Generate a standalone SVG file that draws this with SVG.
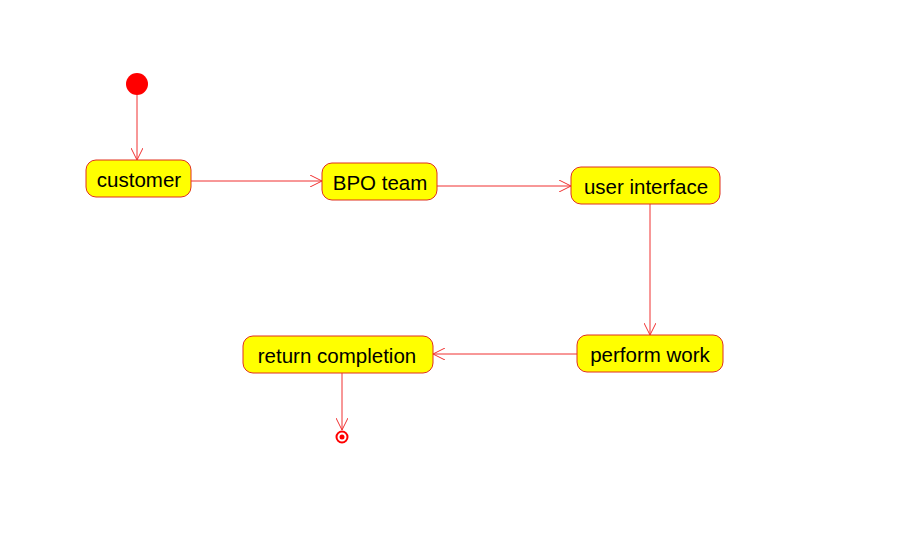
<svg xmlns="http://www.w3.org/2000/svg" width="914" height="559" viewBox="0 0 914 559">
<style>
.n rect{fill:#ffff00;stroke:#e0301e;stroke-width:1}
.n text{font-family:"Liberation Sans",Arial,sans-serif;font-size:20.5px;fill:#000;text-anchor:middle;dominant-baseline:central}
.c line{stroke:#f03030;stroke-width:1;marker-end:url(#a)}
</style>
<defs>
<marker id="a" viewBox="0 0 12 12" refX="12" refY="6" markerWidth="12" markerHeight="12" markerUnits="userSpaceOnUse" orient="auto">
<path d="M0,0 L12,6 L0,12" fill="none" stroke="#f03030" stroke-width="1"/>
</marker>
</defs>
<rect width="914" height="559" fill="#fff"/>
<g id="start"><circle cx="137" cy="84" r="11" fill="#ff0000"/></g>
<g id="customer" class="n"><rect x="86" y="160" width="105" height="37" rx="10"/><text x="139" y="179">customer</text></g>
<g id="bpo" class="n"><rect x="322" y="163" width="115" height="37" rx="10"/><text x="380" y="182">BPO team</text></g>
<g id="ui" class="n"><rect x="571" y="167" width="149" height="37" rx="10"/><text x="646" y="186">user interface</text></g>
<g id="perform" class="n"><rect x="577" y="335" width="146" height="37" rx="10"/><text x="650" y="354">perform work</text></g>
<g id="return" class="n"><rect x="243" y="336" width="190" height="37" rx="10"/><text x="337" y="355">return completion</text></g>
<g id="end"><circle cx="342" cy="437" r="5.5" fill="none" stroke="#ff0000" stroke-width="2"/><circle cx="342" cy="437" r="2.5" fill="#ff0000"/></g>
<g id="connectors" class="c">
<line x1="137" y1="95" x2="137" y2="160"/>
<line x1="191" y1="181" x2="322" y2="181"/>
<line x1="437" y1="186" x2="571" y2="186"/>
<line x1="650" y1="204" x2="650" y2="335"/>
<line x1="577" y1="354" x2="433" y2="354"/>
<line x1="342" y1="373" x2="342" y2="430"/>
</g>
</svg>
